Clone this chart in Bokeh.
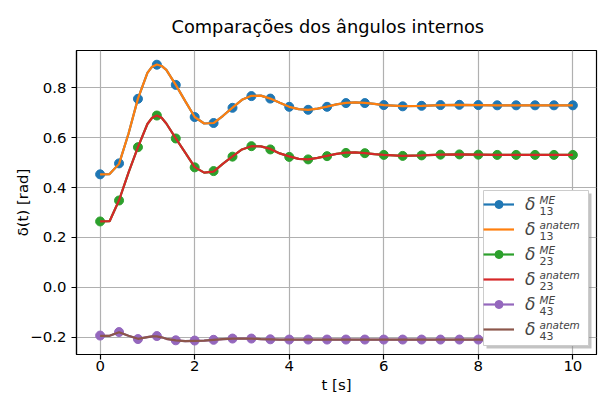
from bokeh.plotting import figure
from bokeh.models import (Range1d, FixedTicker, CustomJSTickFormatter, Legend,
                          LegendItem, Label, BoxAnnotation)
from bokeh.embed import file_html
from bokeh.resources import INLINE

# ---- data ----
t_me = [0.0, 0.4, 0.8, 1.2, 1.6, 2.0, 2.4, 2.8, 3.2, 3.6, 4.0, 4.4, 4.8,
        5.2, 5.6, 6.0, 6.4, 6.8, 7.2, 7.6, 8.0, 8.4, 8.8, 9.2, 9.6, 10.0]
d13_me = [0.453, 0.497, 0.756, 0.893, 0.812, 0.683, 0.659, 0.720, 0.767, 0.757,
          0.724, 0.712, 0.724, 0.739, 0.739, 0.731, 0.726, 0.728, 0.731, 0.732,
          0.731, 0.730, 0.730, 0.730, 0.730, 0.730]
d23_me = [0.264, 0.348, 0.562, 0.689, 0.597, 0.481, 0.466, 0.524, 0.566, 0.553,
          0.523, 0.513, 0.526, 0.539, 0.538, 0.531, 0.527, 0.529, 0.532, 0.533,
          0.532, 0.531, 0.531, 0.531, 0.531, 0.531]
d43_me = [-0.194, -0.180, -0.208, -0.196, -0.213, -0.214, -0.211, -0.206, -0.206,
          -0.209, -0.210, -0.210, -0.210, -0.210, -0.210, -0.210, -0.210, -0.210,
          -0.210, -0.210, -0.210, -0.210, -0.210, -0.210, -0.210, -0.210]

t_an = [0.0, 0.2, 0.4, 0.6, 0.8, 1.0, 1.1, 1.2, 1.3, 1.4, 1.6, 1.8, 2.0, 2.2,
        2.4, 2.6, 2.8, 3.0, 3.2, 3.4, 3.6, 3.8, 4.0, 4.2, 4.4, 4.6, 4.8, 5.0,
        5.2, 5.4, 5.6, 5.8, 6.0, 6.4, 6.8, 7.2, 7.6, 8.0, 8.4, 8.8, 9.2, 9.6,
        10.0]
d13_an = [0.453, 0.454, 0.495, 0.616, 0.757, 0.860, 0.885, 0.894, 0.888, 0.872,
          0.812, 0.747, 0.683, 0.657, 0.659, 0.688, 0.721, 0.752, 0.768, 0.769,
          0.757, 0.740, 0.724, 0.715, 0.712, 0.717, 0.725, 0.734, 0.740, 0.742,
          0.740, 0.736, 0.731, 0.727, 0.728, 0.731, 0.732, 0.731, 0.730, 0.730,
          0.730, 0.730, 0.730]
d23_an = [0.264, 0.265, 0.349, 0.460, 0.562, 0.655, 0.680, 0.689, 0.680, 0.657,
          0.597, 0.540, 0.482, 0.460, 0.464, 0.496, 0.525, 0.553, 0.566, 0.565,
          0.555, 0.537, 0.525, 0.515, 0.513, 0.519, 0.527, 0.535, 0.540, 0.541,
          0.538, 0.534, 0.531, 0.527, 0.529, 0.532, 0.533, 0.532, 0.531, 0.531,
          0.531, 0.531, 0.531]
d43_an = [-0.195, -0.195, -0.181, -0.195, -0.207, -0.200, -0.197, -0.197, -0.201,
          -0.207, -0.213, -0.216, -0.215, -0.214, -0.211, -0.208, -0.206, -0.206,
          -0.206, -0.208, -0.209, -0.210, -0.210, -0.210, -0.210, -0.210, -0.210,
          -0.210, -0.210, -0.210, -0.210, -0.210, -0.210, -0.210, -0.210, -0.210,
          -0.210, -0.210, -0.210, -0.210, -0.210, -0.210, -0.210]

x_ticks = [0, 2, 4, 6, 8, 10]
y_ticks = [-0.2, 0.0, 0.2, 0.4, 0.6, 0.8]
subs = ["13", "13", "23", "23", "43", "43"]
sups = ["ME", "anatem", "ME", "anatem", "ME", "anatem"]

FONT = "DejaVu Sans"
colors = ["#1f77b4", "#ff7f0e", "#2ca02c", "#d62728", "#9467bd", "#8c564b"]

p = figure(width=603, height=400, output_backend="svg", toolbar_location=None,
           x_range=Range1d(-0.5, 10.5), y_range=Range1d(-0.27, 0.95),
           min_border_left=76, min_border_right=7, min_border_top=45,
           min_border_bottom=46)

p.title.text = "Comparações dos ângulos internos"
p.title.text_font = FONT
p.title.text_font_size = "17.8px"
p.title.text_font_style = "normal"
p.title.text_color = "black"
p.title.align = "left"
p.title.offset = 95
p.title.standoff = 27

p.outline_line_color = "black"
p.outline_line_width = 1.2
p.background_fill_color = "white"
p.border_fill_color = "white"

for ax in (p.xaxis[0], p.yaxis[0]):
    ax.axis_line_color = "black"
    ax.axis_line_width = 1.2
    ax.major_tick_in = 0
    ax.major_tick_out = 5
    ax.major_tick_line_width = 1.2
    ax.major_tick_line_color = "black"
    ax.minor_tick_line_color = None
    ax.major_label_text_font = FONT
    ax.major_label_text_font_size = "14.9px"
    ax.major_label_text_color = "black"
    ax.axis_label_text_font = FONT
    ax.axis_label_text_font_size = "14.9px"
    ax.axis_label_text_font_style = "normal"
    ax.axis_label_text_color = "black"

p.xaxis.major_label_standoff = 1
p.yaxis.major_label_standoff = 5
p.xaxis.ticker = FixedTicker(ticks=x_ticks)
p.yaxis.ticker = FixedTicker(ticks=y_ticks)
p.yaxis.formatter = CustomJSTickFormatter(
    code="return tick.toFixed(1).replace('-', '\\u2212');")
p.xaxis.axis_label = "t [s]"
p.yaxis.axis_label = "δ(t) [rad]"
p.xaxis.axis_label_standoff = 2
p.yaxis.axis_label_standoff = -5

for g in (p.xgrid[0], p.ygrid[0]):
    g.grid_line_color = "#b0b0b0"
    g.grid_line_width = 1.2

# ME series: continuous curve (follows the same trajectory) with markers every 0.4 s
renders = []
pairs = [(d13_me, d13_an), (d23_me, d23_an), (d43_me, d43_an)]
for k, (me, an) in enumerate(pairs):
    c_me, c_an = colors[2 * k], colors[2 * k + 1]
    rl = p.line(t_an, an, line_color=c_me, line_width=2.2)
    rs = p.scatter(t_me, me, size=9, fill_color=c_me, line_color=c_me)
    ra = p.line(t_an, an, line_color=c_an, line_width=2.2)
    renders.append([rl, rs])
    renders.append([ra])

# legend shadow and frame (screen units, relative to the plot frame)
p.add_layout(BoxAnnotation(left=410, right=515, bottom=6, top=161,
                           left_units="screen", right_units="screen",
                           bottom_units="screen", top_units="screen",
                           fill_color="#888888", fill_alpha=0.5,
                           line_color=None))
p.add_layout(BoxAnnotation(left=407, right=512, bottom=9, top=164,
                           left_units="screen", right_units="screen",
                           bottom_units="screen", top_units="screen",
                           fill_color="white", fill_alpha=1.0,
                           line_color="#cccccc", line_width=1, line_alpha=1.0))

items = [LegendItem(label="δ", renderers=r) for r in renders]
legend = Legend(items=items, location=(407, 15), padding=5, spacing=5,
                glyph_height=20, glyph_width=31, label_standoff=11,
                label_width=53, margin=0,
                label_text_font=FONT, label_text_font_size="17px",
                label_text_font_style="italic",
                border_line_color=None, background_fill_alpha=0.0)
p.add_layout(legend)

for i in range(6):
    p.add_layout(Label(x=463, y=155 - 25 * i, x_units="screen", y_units="screen",
                       text=sups[i], text_font=FONT, text_font_size="10.5px",
                       text_font_style="italic", text_baseline="middle",
                       text_align="left", level="overlay"))
    p.add_layout(Label(x=463, y=144 - 25 * i, x_units="screen", y_units="screen",
                       text=subs[i], text_font=FONT, text_font_size="11px",
                       text_font_style="normal", text_baseline="middle",
                       text_align="left", level="overlay"))

open("out.html", "w").write(file_html(p, INLINE))
